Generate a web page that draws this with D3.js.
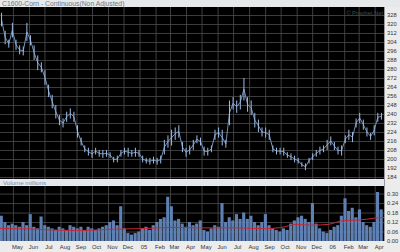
<!DOCTYPE html>
<html><head><meta charset="utf-8">
<script src="https://cdn.jsdelivr.net/npm/d3@7"></script>
<style>
html,body{margin:0;padding:0;background:#ececec;}
svg{display:block;}
text{font-family:"Liberation Sans",Arial,sans-serif;}
</style></head>
<body><svg id="c" width="400" height="252"></svg>
<script>
// ---- data (weekly) ----
const startWeek = "2004-04-09";
const weekHigh = [330,314,306,321,306,301,300,321,310,301,292,286,279,266,257,248,239,236,242,245,242,230,219,212,210,208,210,208,208,208,206,202,203,208,210,210,208,210,208,203,201,201,202,201,203,217,221,226,228,230,215,210,212,217,221,219,211,210,212,226,228,226,217,252,255,252,257,272,255,252,241,235,228,228,226,212,210,210,210,206,205,203,201,197,196,201,205,208,211,212,217,220,215,211,212,221,226,224,236,241,235,228,223,230,241,241];
const weekLow  = [318,302,299,308,297,293,292,305,301,288,279,277,266,255,245,236,230,228,233,236,233,219,212,206,203,201,204,202,201,202,201,197,197,202,204,202,202,202,202,197,196,195,196,195,196,204,210,212,217,219,206,202,204,208,214,212,203,203,206,217,219,212,210,230,244,241,244,252,242,239,228,224,220,219,217,206,204,204,203,201,199,197,196,193,190,196,199,202,204,206,208,212,208,204,203,214,217,215,228,232,226,220,217,221,233,235];
const weekVolume = [0.16,0.12,0.10,0.11,0.10,0.09,0.12,0.10,0.17,0.09,0.08,0.155,0.10,0.09,0.08,0.07,0.09,0.08,0.07,0.10,0.09,0.08,0.09,0.07,0.09,0.08,0.07,0.08,0.09,0.10,0.12,0.13,0.10,0.22,0.08,0.05,0.04,0.05,0.06,0.08,0.09,0.07,0.10,0.12,0.14,0.15,0.28,0.22,0.13,0.14,0.11,0.09,0.12,0.10,0.11,0.13,0.07,0.06,0.08,0.10,0.09,0.24,0.12,0.15,0.13,0.17,0.14,0.18,0.14,0.16,0.12,0.10,0.12,0.17,0.10,0.08,0.07,0.06,0.08,0.07,0.11,0.13,0.15,0.16,0.14,0.12,0.24,0.11,0.08,0.06,0.05,0.07,0.09,0.10,0.16,0.27,0.19,0.21,0.15,0.20,0.12,0.10,0.09,0.12,0.31,0.20];
const maStartMonth = "2004-04-01";
const volumeMA = [0.080,0.078,0.077,0.072,0.068,0.066,0.068,0.074,0.076,0.078,0.082,0.086,0.085,0.083,0.083,0.084,0.080,0.078,0.085,0.105,0.100,0.105,0.130,0.132,0.145,0.150];
const priceTicks = [184,192,200,208,216,224,232,240,248,256,264,272,280,288,296,304,312,320,328];
const volumeTicks = [0.00,0.06,0.12,0.18,0.24,0.30];
const monthLabels = ["May","Jun","Jul","Aug","Sep","Oct","Nov","Dec","05","Feb","Mar","Apr","May","Jun","Jul","Aug","Sep","Oct","Nov","Dec","06","Feb","Mar","Apr"];
const titleText = "C1600-Corn - Continuous(Non Adjusted)";

// ---- layout ----
const svg = d3.select("#c");
const pL = 0, pR = 384, mT = 7, mB = 179, vT = 186, vB = 241;
const parse = d3.utcParse("%Y-%m-%d");
const x = d3.scaleUtc().domain([parse("2004-04-06"), parse("2006-04-19")]).range([pL, pR]);
const yP = d3.scaleLinear().domain([182.2, 335.1]).range([mB, mT]);
const yV = d3.scaleLinear().domain([0, 0.348]).range([vB, vT]);

const w0 = parse(startWeek);
const weeks = weekHigh.map((h, i) => ({d: d3.utcDay.offset(w0, 7*i), hi: h, lo: weekLow[i], v: weekVolume[i]}));
const m0 = parse(maStartMonth);
const ma = volumeMA.map((v, i) => ({d: d3.utcMonth.offset(m0, i), v}));
const months = monthLabels.map((t, i) => ({d: d3.utcMonth.offset(parse("2004-05-01"), i), t}));
const step = x(d3.utcDay.offset(w0, 7)) - x(w0);

// title bar
svg.append("rect").attr("x",0).attr("y",0).attr("width",400).attr("height",mT).attr("fill","#e6e8ea");
svg.append("text").attr("x",2).attr("y",5.8).attr("font-size",6.8).attr("fill","#66788a").text(titleText);

// panels
svg.append("rect").attr("x",pL).attr("y",mT).attr("width",pR-pL).attr("height",mB-mT).attr("fill","#000");
svg.append("rect").attr("x",pL).attr("y",vT).attr("width",pR-pL).attr("height",vB-vT).attr("fill","#000");
// volume label strip
svg.append("rect").attr("x",0).attr("y",mB+0.5).attr("width",pR).attr("height",vT-mB-1).attr("fill","#e4e8ee");
svg.append("text").attr("x",3).attr("y",184.8).attr("font-size",6.2).attr("fill","#7b8ca2").text("Volume  millions");

svg.append("clipPath").attr("id","cm").append("rect").attr("x",pL).attr("y",mT).attr("width",pR-pL).attr("height",mB-mT);
svg.append("clipPath").attr("id","cv").append("rect").attr("x",pL).attr("y",vT).attr("width",pR-pL).attr("height",vB-vT);

const gridColor = "#4e4e4e";
[[mT,mB],[vT,vB]].forEach(([t,b]) => {
  svg.append("g").attr("transform",`translate(0,${b})`)
    .call(d3.axisBottom(x).tickValues(months.map(m=>m.d)).tickSize(-(b-t)).tickFormat(""))
    .call(g => { g.select(".domain").remove(); g.selectAll("line").attr("stroke",gridColor).attr("stroke-width",0.8); });
});
svg.append("g").attr("transform",`translate(${pR},0)`)
  .call(d3.axisLeft(yP).tickValues(priceTicks).tickSize(pR-pL).tickFormat(""))
  .call(g => { g.select(".domain").remove(); g.selectAll("line").attr("stroke",gridColor).attr("stroke-width",0.8); });
svg.append("g").attr("transform",`translate(${pR},0)`)
  .call(d3.axisLeft(yV).tickValues(volumeTicks.filter(v=>v>0)).tickSize(pR-pL).tickFormat(""))
  .call(g => { g.select(".domain").remove(); g.selectAll("line").attr("stroke",gridColor).attr("stroke-width",0.8); });

// watermark
svg.append("text").attr("x",pR-1).attr("y",14.5).attr("text-anchor","end").attr("font-size",5.8).attr("fill","#4a4a4a").text("© Prophet.Net");

// price
const gp = svg.append("g").attr("clip-path","url(#cm)");
gp.append("path").datum(weeks)
  .attr("d", d3.line().x(d=>x(d.d)).y(d=>yP((d.hi+d.lo)/2)))
  .attr("fill","none").attr("stroke","#7f9fcc").attr("stroke-width",0.9);
gp.selectAll("line.hl").data(weeks).join("line").attr("class","hl")
  .attr("x1",d=>x(d.d)).attr("x2",d=>x(d.d)).attr("y1",d=>yP(d.hi)).attr("y2",d=>yP(d.lo))
  .attr("stroke","#9dbce6").attr("stroke-width",1);

// volume
const gv = svg.append("g").attr("clip-path","url(#cv)");
gv.selectAll("rect").data(weeks).join("rect")
  .attr("x",d=>x(d.d)-step/2).attr("width",step-0.5)
  .attr("y",d=>yV(d.v)).attr("height",d=>yV(0)-yV(d.v))
  .attr("fill","#5f80b2");
gv.append("path").datum(ma)
  .attr("d", d3.line().x(d=>x(d.d)).y(d=>yV(d.v)).curve(d3.curveMonotoneX))
  .attr("fill","none").attr("stroke","#c8283a").attr("stroke-width",1);

const styleText = g => { g.select(".domain").remove(); g.selectAll("text").attr("font-size",5.8).attr("fill","#333").attr("font-family","Liberation Sans, Arial, sans-serif"); };
svg.append("g").attr("transform",`translate(${pR},0)`)
  .call(d3.axisRight(yP).tickValues(priceTicks).tickSize(0).tickPadding(3).tickFormat(d3.format("d")))
  .call(styleText);
svg.append("g").attr("transform",`translate(${pR},0)`)
  .call(d3.axisRight(yV).tickValues(volumeTicks).tickSize(0).tickPadding(3).tickFormat(d3.format(".2f")))
  .call(styleText);
svg.append("g").attr("transform",`translate(4,${vB})`)
  .call(d3.axisBottom(x).tickValues(months.map(m=>m.d)).tickSize(0).tickPadding(4).tickFormat((d,i)=>months[i].t))
  .call(styleText);

svg.append("line").attr("x1",pR+0.5).attr("x2",pR+0.5).attr("y1",mT).attr("y2",vB).attr("stroke","#9a9a9a").attr("stroke-width",1);
</script></body></html>
